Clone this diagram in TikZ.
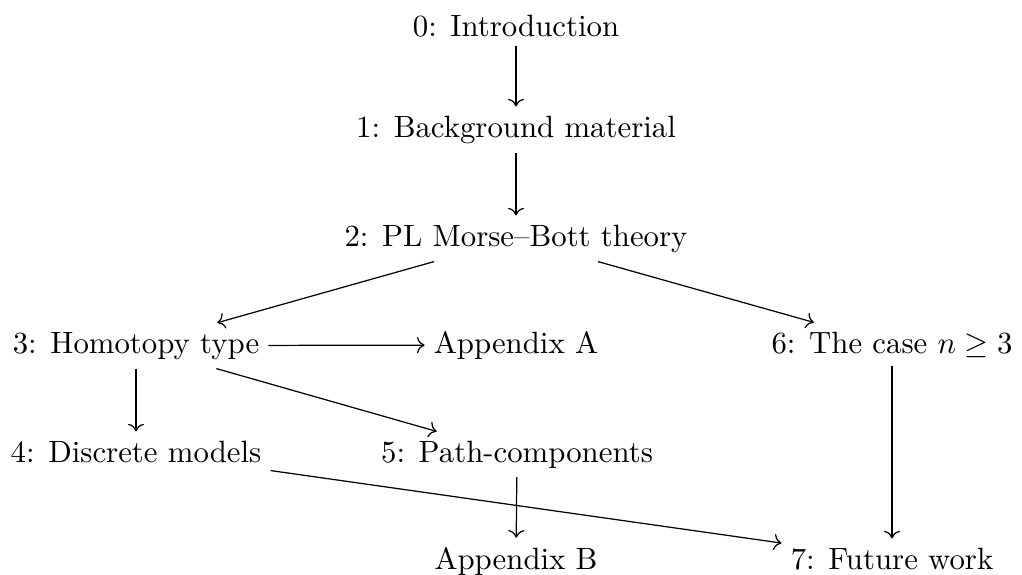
\documentclass[tikz,border=0pt]{standalone}
\usetikzlibrary{cd}
\begin{document}
\begin{tikzpicture}[x=0.3247pt,y=-0.3247pt, >={cm to},
  sect/.style={inner sep=2.8pt, anchor=base},
  link/.style={->, line width=0.4pt}]
\useasboundingbox (0,0) rectangle (1022,574);
\node[sect] (n0) at (516,36)  {0: Introduction};
\node[sect] (n1) at (516,137) {1: Background material};
\node[sect] (n2) at (516,246) {2: PL Morse--Bott theory};
\node[sect] (n3) at (136,353) {3: Homotopy type};
\node[sect] (nA) at (516,353) {Appendix A};
\node[sect] (n6) at (892,353) {6: The case $n\geq 3$};
\node[sect] (n4) at (136,462) {4: Discrete models};
\node[sect] (n5) at (517,462) {5: Path-components};
\node[sect] (nB) at (516,569) {Appendix B};
\node[sect] (n7) at (892,569) {7: Future work};
\draw[link] (n0) -- (n1);
\draw[link] (n1) -- (n2);
\draw[link] (n2) -- (n3);
\draw[link] (n2) -- (n6);
\draw[link] (n3) -- (nA);
\draw[link] (n3) -- (n4);
\draw[link] (n3) -- (n5);
\draw[link] (n5) -- (nB);
\draw[link] (n4) -- (n7);
\draw[link] (n6) -- (n7);
\end{tikzpicture}
\end{document}
